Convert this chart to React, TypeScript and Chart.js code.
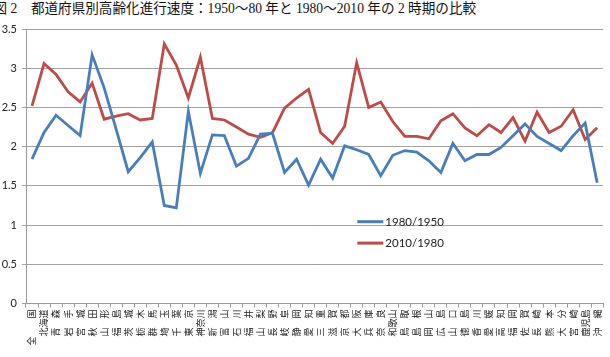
import { useEffect, useRef } from "react";
import { Chart, registerables } from "chart.js";

Chart.register(...registerables);

// Prefecture labels, padded to a common width as in the printed table
const prefectures = [
  "全　　国", "北海道", "青　森", "岩　手", "宮　城", "秋　田", "山　形", "福　島",
  "茨　城", "栃　木", "群　馬", "埼　玉", "千　葉", "東　京", "神奈川", "新　潟",
  "富　山", "石　川", "福　井", "山　梨", "長　野", "岐　阜", "静　岡", "愛　知",
  "三　重", "滋　賀", "京　都", "大　阪", "兵　庫", "奈　良", "和歌山", "鳥　取",
  "島　根", "岡　山", "広　島", "山　口", "徳　島", "香　川", "愛　媛", "高　知",
  "福　岡", "佐　賀", "長　崎", "熊　本", "大　分", "宮　崎", "鹿児島", "沖　縄",
];

// Ratio of the ageing rate 1980 vs 1950
const ratio1980to1950 = [
  1.84, 2.18, 2.40, 2.27, 2.14, 3.17, 2.75, 2.22, 1.68, 1.86,
  2.06, 1.25, 1.22, 2.45, 1.66, 2.15, 2.14, 1.75, 1.85, 2.16,
  2.17, 1.67, 1.84, 1.51, 1.84, 1.60, 2.01, 1.96, 1.90, 1.63,
  1.89, 1.95, 1.93, 1.82, 1.67, 2.04, 1.82, 1.90, 1.90, 1.99,
  2.14, 2.29, 2.13, 2.04, 1.95, 2.14, 2.30, 1.54,
];

// Ratio of the ageing rate 2010 vs 1980
const ratio2010to1980 = [
  2.52, 3.06, 2.92, 2.70, 2.57, 2.81, 2.35, 2.39, 2.42, 2.34,
  2.36, 3.31, 3.04, 2.62, 3.14, 2.36, 2.34, 2.25, 2.16, 2.12,
  2.18, 2.49, 2.62, 2.73, 2.18, 2.04, 2.26, 3.07, 2.50, 2.57,
  2.32, 2.13, 2.13, 2.10, 2.33, 2.42, 2.24, 2.14, 2.28, 2.18,
  2.37, 2.07, 2.44, 2.18, 2.26, 2.47, 2.09, 2.24,
];

const seriesLabels = ["1980/1950", "2010/1980"];
const seriesColors = ["#4A7EBB", "#BE4B48"];

const titleText = "図 2　都道府県別高齢化進行速度：1950〜80 年と 1980〜2010 年の 2 時期の比較";

// Legend drawn inside the plot area, lower middle
const insideLegend = {
  id: "insideLegend",
  afterDatasetsDraw(chart: any) {
    const { ctx, chartArea } = chart;
    const x0 = chartArea.left + chartArea.width * 0.574;
    chart.data.datasets.forEach((ds: any, i: number) => {
      const y = chartArea.top + chartArea.height * (0.702 + i * 0.078);
      ctx.save();
      ctx.strokeStyle = ds.borderColor;
      ctx.lineWidth = 3;
      ctx.beginPath();
      ctx.moveTo(x0, y);
      ctx.lineTo(x0 + 26, y);
      ctx.stroke();
      ctx.fillStyle = "#222";
      ctx.font = "11.5px Lato";
      ctx.textBaseline = "middle";
      ctx.textAlign = "left";
      ctx.fillText(ds.label, x0 + 28, y + 0.5);
      ctx.restore();
    });
  },
};

export default function App() {
  const canvasRef = useRef<HTMLCanvasElement>(null);

  useEffect(() => {
    const canvas = canvasRef.current;
    if (!canvas) return;
    const chart = new Chart(canvas, {
      type: "line",
      data: {
        labels: prefectures,
        datasets: [
          {
            label: seriesLabels[0],
            data: ratio1980to1950,
            borderColor: seriesColors[0],
            backgroundColor: seriesColors[0],
            borderWidth: 2.8,
            pointRadius: 0,
            tension: 0,
          },
          {
            label: seriesLabels[1],
            data: ratio2010to1980,
            borderColor: seriesColors[1],
            backgroundColor: seriesColors[1],
            borderWidth: 2.8,
            pointRadius: 0,
            tension: 0,
          },
        ],
      },
      options: {
        responsive: false,
        animation: false,
        layout: { padding: { top: 29, right: 1, left: 0, bottom: 0 } },
        plugins: {
          legend: { display: false },
          title: { display: false },
          tooltip: { enabled: false },
        },
        scales: {
          x: {
            offset: true,
            grid: {
              display: true,
              offset: true,
              drawOnChartArea: false,
              drawTicks: true,
              tickLength: 4,
              color: "#9a9a9a",
            },
            border: { display: true, color: "#9a9a9a" },
            ticks: {
              autoSkip: false,
              minRotation: 90,
              maxRotation: 90,
              padding: 2,
              color: "#222",
              font: { family: "'Noto Sans CJK JP'", size: 9 },
            },
            afterFit: (scale: any) => {
              scale.height = 53.5;
            },
          },
          y: {
            min: 0,
            max: 3.5,
            ticks: {
              stepSize: 0.5,
              padding: 5,
              color: "#222",
              font: { family: "Lato", size: 11 },
              callback: (v: any) => String(Number(v)),
            },
            grid: {
              color: "#a3a3a3",
              tickLength: 4,
              drawTicks: true,
            },
            border: { display: true, color: "#9a9a9a" },
            afterFit: (scale: any) => {
              scale.width = 29;
            },
          },
        },
      },
      plugins: [insideLegend],
    });
    return () => chart.destroy();
  }, []);

  return (
    <div
      style={{
        position: "fixed",
        left: 0,
        top: 0,
        width: 610,
        height: 357,
        overflow: "hidden",
        background: "#fff",
      }}
    >
      <div
        style={{
          position: "absolute",
          left: -6.5,
          top: 0,
          whiteSpace: "nowrap",
          fontFamily: "'Liberation Serif', 'Noto Sans CJK JP', serif",
          fontSize: 13.6,
          lineHeight: "17px",
          color: "#111",
        }}
      >
        {titleText}
      </div>
      <canvas
        ref={canvasRef}
        width={613}
        height={357}
        style={{ position: "absolute", left: -3, top: 0 }}
      />
    </div>
  );
}
